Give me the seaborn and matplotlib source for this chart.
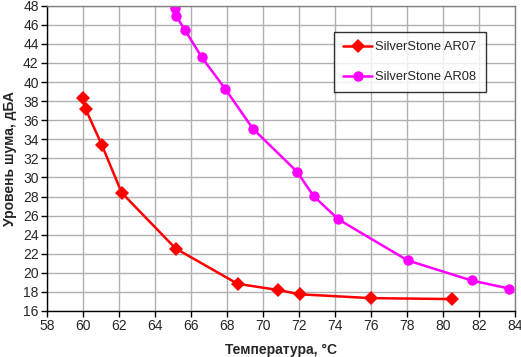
import matplotlib
matplotlib.use("Agg")
import matplotlib.pyplot as plt
import seaborn as sns
import pandas as pd
import numpy as np

ar07_temp = [60.0, 60.15, 61.05, 62.15, 65.15, 68.6, 70.85, 72.07, 76.0, 80.5]
ar07_noise = [38.3, 37.15, 33.4, 28.4, 22.55, 18.85, 18.2, 17.75, 17.35, 17.25]
ar08_temp = [65.1, 65.17, 65.67, 66.6, 67.9, 69.45, 71.9, 72.82, 74.2, 78.05, 81.6, 83.7]
ar08_noise = [47.75, 46.95, 45.45, 42.6, 39.3, 35.1, 30.6, 28.05, 25.6, 21.3, 19.2, 18.35]
series_names = ["SilverStone AR07", "SilverStone AR08"]
x_ticks = list(range(58, 85, 2))
y_ticks = list(range(16, 49, 2))

sns.set_style("white")
plt.rcParams['font.family'] = ['Liberation Sans', 'DejaVu Sans']

df = pd.concat([
    pd.DataFrame({"t": ar07_temp, "n": ar07_noise, "s": series_names[0]}),
    pd.DataFrame({"t": ar08_temp, "n": ar08_noise, "s": series_names[1]}),
])

fig = plt.figure(figsize=(5.21, 3.57), dpi=100)
ax = fig.add_axes([47/521, 1-311/357, (514.7-47)/521, (311-5.7)/357])

palette = {series_names[0]: "#ff0000", series_names[1]: "#ff00ff"}
markers = {series_names[0]: "D", series_names[1]: "o"}
sns.lineplot(data=df, x="t", y="n", hue="s", style="s", palette=palette,
             markers=markers, dashes=False, sort=False, estimator=None,
             linewidth=1.8, markersize=7.5, markeredgewidth=0, ax=ax)

ax.set_xlim(58, 84)
ax.set_ylim(16, 48)
ax.set_xticks(x_ticks)
ax.set_yticks(y_ticks)
ax.grid(True, color="#b0b0b0", linewidth=1)
ax.set_axisbelow(True)
for side in ["top", "right"]:
    ax.spines[side].set_color("#808080")
    ax.spines[side].set_linewidth(1)
for side in ["left", "bottom"]:
    ax.spines[side].set_color("black")
    ax.spines[side].set_linewidth(1)
ax.tick_params(axis="both", direction="out", length=4, width=1, color="black",
               labelsize=10, pad=2, bottom=True, left=True)
ax.set_xlabel("Температура, °C", fontsize=10, fontweight="bold", labelpad=7)
ax.set_ylabel("Уровень шума, дБА", fontsize=10, fontweight="bold", labelpad=4)

leg = ax.legend(loc="upper left", bbox_to_anchor=((334-47)/467.7, 1-(32-5.7)/305.3),
                borderaxespad=0, frameon=True, fancybox=False, edgecolor="black",
                fontsize=9.3, handlelength=2.25, labelspacing=1.4, borderpad=0.7,
                handletextpad=0.25, title=None)
leg.get_frame().set_linewidth(1)
leg.get_frame().set_facecolor("white")

fig.savefig("out.png", dpi=100)
